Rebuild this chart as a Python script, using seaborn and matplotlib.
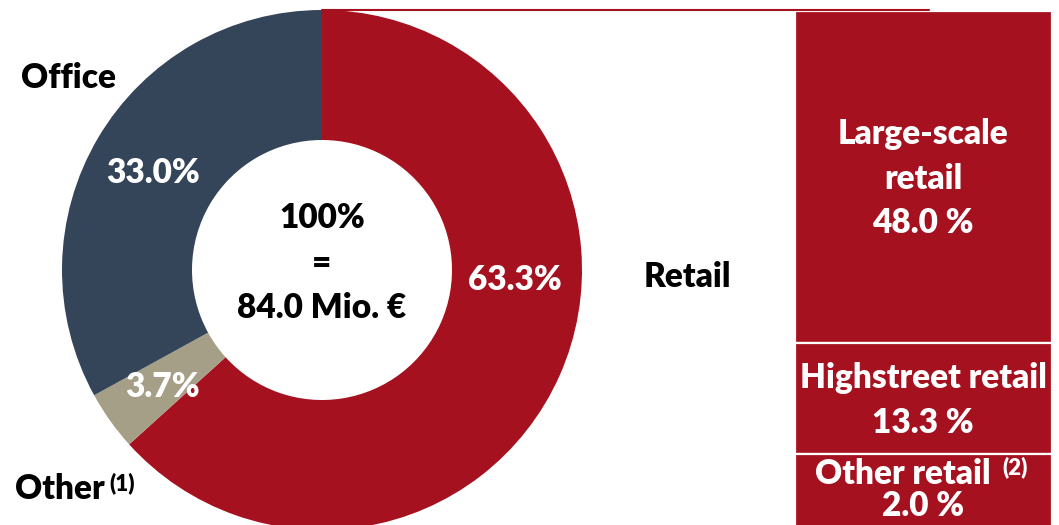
import numpy as np
import seaborn as sns
import matplotlib
matplotlib.use("Agg")
import matplotlib.pyplot as plt
from matplotlib.lines import Line2D

# data
segments = ["Retail", "Other", "Office"]
segment_share = [63.3, 3.7, 33.0]
retail_parts = ["Large-scale retail", "Highstreet retail", "Other retail"]
retail_share = [48.0, 13.3, 2.0]
total_label = "84.0 Mio. €"

RED = "#A6111F"
NAVY = "#344459"
BEIGE = "#A59F87"
seg_colors = [RED, BEIGE, NAVY]

sns.set_theme(style="white")
plt.rcParams["font.family"] = ["Lato", "DejaVu Sans"]

W, H = 1059, 525
fig = plt.figure(figsize=(W / 100, H / 100), dpi=100)
fig.patch.set_facecolor("white")


def ftext(x, y, s, size=24, color="black", ha="center", **kw):
    # x, y in pixels from the top-left corner, y is the baseline
    fig.text(x / W, 1 - y / H, s, fontsize=size, color=color, ha=ha,
             va="baseline", fontweight=800, **kw)


# donut: centre (322, 270) px, outer radius 260 px
ax1 = fig.add_axes([62 / W, -5 / H, 520 / W, 520 / H])
ax1.pie(segment_share, colors=seg_colors, startangle=90, counterclock=False,
        radius=1, wedgeprops=dict(width=0.5, edgecolor="none"))
ax1.set_xlim(-1, 1)
ax1.set_ylim(-1, 1)
ax1.axis("off")

# stacked bar for the retail split (small parts get a minimum drawn height)
ax2 = fig.add_axes([795 / W, 0, 257 / W, 514 / H])
drawn = np.maximum(retail_share, 16)
bottoms = np.concatenate([[0], np.cumsum(drawn)[:-1]])
ax2.bar(np.zeros(len(drawn)), drawn, bottom=bottoms, width=1.0,
        color=RED, edgecolor="white", linewidth=1.6)
ax2.set_xlim(-0.5, 0.5)
ax2.set_ylim(514 / (332 / retail_share[0]), 0)
ax2.axis("off")

# connector line from top of donut to the bar
fig.add_artist(Line2D([322 / W, 929 / W], [1 - 10 / H, 1 - 10 / H],
                      transform=fig.transFigure, color=RED, lw=1.5))

# donut labels
ftext(68, 88, "Office")
ftext(687, 287, segments[0])
ftext(15, 499, "Other", ha="left")
ftext(109, 490, "(1)", size=16, ha="left")
ftext(515, 290, f"{segment_share[0]:.1f}%", color="white")
ftext(153, 183, f"{segment_share[2]:.1f}%", color="white")
ftext(162, 397, f"{segment_share[1]:.1f}%", color="white")
ftext(322, 228, "100%")
ftext(322, 273, "=")
ftext(322, 318, total_label)

# bar labels
ftext(923, 144, "Large-scale", color="white")
ftext(923, 189, "retail", color="white")
ftext(923, 233, f"{retail_share[0]:.1f} %", color="white")
ftext(923, 388, retail_parts[1], color="white")
ftext(923, 433, f"{retail_share[1]:.1f} %", color="white")
ftext(903, 484, retail_parts[2], color="white")
ftext(1015, 474, "(2)", size=16, color="white")
ftext(923, 516, f"{retail_share[2]:.1f} %", color="white")

fig.savefig("out.png", dpi=100, facecolor="white")
